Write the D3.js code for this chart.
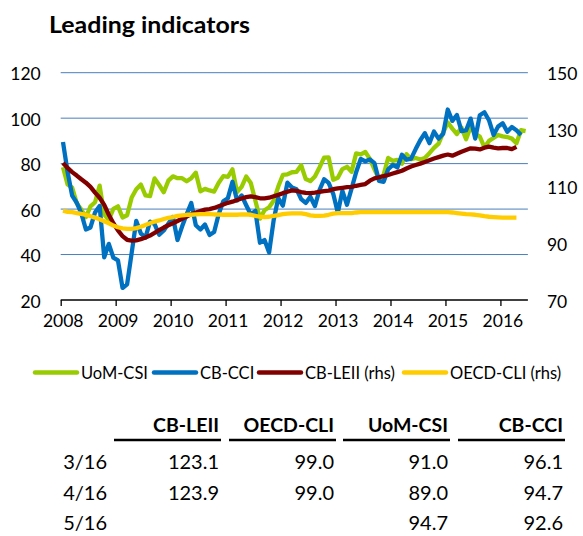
<!DOCTYPE html>
<html>
<head>
<meta charset="utf-8">
<script src="https://cdn.jsdelivr.net/npm/d3@7"></script>
<style>
  body { margin: 0; background: #fff; }
  svg text { font-family: Lato, "Open Sans", sans-serif; fill: #000; }
</style>
</head>
<body>
<div id="chart"></div>
<script>
// monthly values, Jan 2008 onwards
const uomCsi = [
  78.4, 70.8, 69.5, 62.6, 59.8, 56.4, 61.2, 63.0, 70.3, 57.6, 55.3, 60.1,
  61.2, 56.3, 57.3, 65.1, 68.7, 70.8, 66.0, 65.7, 73.5, 70.6, 67.4, 72.5,
  74.4, 73.6, 73.6, 72.2, 73.6, 76.0, 67.8, 68.9, 68.2, 67.7, 71.6, 74.5,
  74.2, 77.5, 67.5, 69.8, 74.3, 71.5, 63.7, 55.8, 59.5, 60.8, 63.7, 69.9,
  75.0, 75.3, 76.2, 76.4, 79.3, 73.2, 72.3, 74.3, 78.3, 82.6, 82.7, 72.9,
  73.8, 77.6, 78.6, 76.4, 84.5, 84.1, 85.1, 82.1, 77.5, 73.2, 75.1, 82.5,
  81.2, 81.6, 80.0, 84.1, 81.9, 82.5, 81.8, 82.5, 84.6, 86.9, 88.8, 93.6,
  98.1, 95.4, 93.0, 95.9, 90.7, 96.1, 93.1, 91.9, 87.2, 90.0, 91.3, 92.6,
  92.0, 91.7, 91.0, 89.0, 94.7, 94.3
];
const cbCci = [
  89.5, 76.4, 65.9, 62.8, 58.1, 51.0, 51.9, 58.5, 61.4, 38.8, 44.7, 38.6,
  37.4, 25.3, 26.9, 40.8, 54.8, 49.3, 47.4, 54.5, 53.4, 48.7, 50.6, 53.6,
  56.5, 46.4, 52.3, 57.7, 62.7, 52.9, 51.0, 53.2, 48.6, 49.9, 57.8, 63.4,
  64.8, 72.0, 63.8, 66.0, 61.7, 57.6, 59.2, 45.2, 46.4, 40.9, 55.2, 64.8,
  61.5, 71.6, 69.5, 68.7, 64.4, 62.7, 65.4, 61.3, 68.4, 73.1, 71.5, 66.7,
  58.4, 68.0, 61.9, 69.0, 76.2, 82.1, 81.0, 81.8, 80.2, 72.4, 72.0, 77.5,
  79.4, 78.3, 83.9, 81.7, 82.2, 86.4, 90.3, 93.4, 89.0, 94.1, 91.0, 93.1,
  103.8, 98.8, 101.4, 94.3, 94.6, 99.8, 91.0, 101.3, 102.6, 99.1, 92.6, 96.3,
  97.8, 94.0, 96.1, 94.7, 92.6
];
const cbLeii = [
  118.2, 116.5, 115.0, 113.8, 112.5, 111.3, 109.8, 107.8, 106.0, 103.5, 100.0, 97.0,
  94.5, 92.5, 91.2, 90.9, 91.0, 91.4, 92.0, 92.7, 93.6, 94.6, 95.5, 96.3,
  97.0, 97.8, 98.6, 99.4, 100.2, 100.8, 101.3, 101.8, 102.0, 102.4, 103.0, 103.6,
  104.2, 104.6, 105.2, 105.7, 106.2, 106.5, 106.2, 105.8, 105.8, 106.0, 106.5, 107.0,
  107.6, 108.1, 108.6, 108.4, 108.0, 107.7, 107.6, 107.8, 108.1, 108.3, 108.5, 109.0,
  109.3, 109.5, 109.7, 109.8, 110.2, 110.5, 110.8, 112.0, 112.8, 113.2, 113.6, 114.0,
  114.5, 115.0, 115.5, 116.3, 117.0, 117.5, 118.0, 118.6, 119.2, 119.8, 120.3, 120.8,
  121.2, 120.8, 121.5, 122.2, 122.8, 123.4, 123.3, 123.0, 123.6, 124.0, 123.6, 123.4,
  123.5, 123.5, 123.1, 123.9
];
const oecdCli = [
  101.4, 101.0, 100.9, 100.6, 100.3, 100.0, 99.5, 99.0, 98.4, 97.7, 97.0, 96.2,
  95.6, 95.2, 95.0, 95.0, 95.3, 95.8, 96.4, 97.0, 97.6, 98.0, 98.5, 98.9,
  99.2, 99.6, 99.8, 100.0, 100.0, 100.1, 100.2, 100.2, 100.2, 100.1, 100.1, 100.0,
  100.0, 100.0, 100.0, 100.1, 100.1, 100.0, 99.6, 99.3, 99.2, 99.3, 99.6, 99.9,
  100.2, 100.4, 100.5, 100.5, 100.5, 100.2, 99.8, 99.6, 99.6, 99.7, 100.0, 100.4,
  100.6, 100.6, 100.6, 100.6, 100.8, 100.9, 100.9, 100.9, 100.9, 100.9, 100.9, 100.9,
  100.9, 100.9, 100.9, 100.9, 100.9, 100.9, 100.9, 100.9, 100.9, 100.9, 100.9, 100.9,
  100.9, 100.8, 100.6, 100.4, 100.2, 100.1, 100.0, 99.8, 99.5, 99.3, 99.2, 99.1,
  99.0, 99.0, 99.0, 99.0
];

const years = ["2008", "2009", "2010", "2011", "2012", "2013", "2014", "2015", "2016"];
const leftTicks = [20, 40, 60, 80, 100, 120];
const rightTicks = [70, 90, 110, 130, 150];

const seriesNames = ["UoM-CSI", "CB-CCI", "CB-LEII (rhs)", "OECD-CLI (rhs)"];
const seriesColors = ["#99cc00", "#0070c0", "#800000", "#ffcc00"];

const tableHeads = ["CB-LEII", "OECD-CLI", "UoM-CSI", "CB-CCI"];
const tableRows = ["3/16", "4/16", "5/16"];
const tableValues = [
  ["123.1", "99.0", "91.0", "96.1"],
  ["123.9", "99.0", "89.0", "94.7"],
  ["", "", "94.7", "92.6"]
];

const W = 583, H = 536;
const plot = {left: 60.7, right: 527.9, top: 72.7, bottom: 300};

const svg = d3.select("#chart").append("svg")
    .attr("width", W)
    .attr("height", H);

svg.append("text")
    .attr("x", 49)
    .attr("y", 33)
    .attr("font-size", 22)
    .attr("font-weight", "bold")
    .attr("textLength", 201)
    .attr("lengthAdjust", "spacingAndGlyphs")
    .text("Leading indicators");

const x = d3.scaleLinear().domain([-0.5, 101.5]).range([plot.left, plot.right]);
const yL = d3.scaleLinear().domain([20, 120]).range([plot.bottom, plot.top]);
const yR = d3.scaleLinear().domain([70, 150]).range([plot.bottom, plot.top]);

// gridlines
svg.append("g")
    .selectAll("line")
    .data(leftTicks.filter(d => d > 20))
    .join("line")
    .attr("x1", plot.left)
    .attr("x2", plot.right)
    .attr("y1", d => yL(d))
    .attr("y2", d => yL(d))
    .attr("stroke", "#4a7ebb")
    .attr("stroke-width", 1);

// left axis
svg.append("g")
    .attr("transform", `translate(${plot.left},0)`)
    .call(d3.axisLeft(yL).tickValues(leftTicks).tickSize(0).tickPadding(20))
    .call(g => g.select(".domain").remove())
    .selectAll("text")
    .attr("font-size", 17.5)
    .attr("dy", "0.4em");

// right axis
svg.append("g")
    .attr("transform", `translate(${plot.right},0)`)
    .call(d3.axisRight(yR).tickValues(rightTicks).tickSize(0).tickPadding(19))
    .call(g => g.select(".domain").remove())
    .selectAll("text")
    .attr("font-size", 17.5)
    .attr("dy", "0.4em");

// x axis
const xTicks = years.map((y, i) => i * 12 - 0.5);
const xAxis = svg.append("g")
    .attr("transform", `translate(0,${plot.bottom})`)
    .call(d3.axisBottom(x).tickValues(xTicks).tickSize(6).tickPadding(9).tickFormat((d, i) => years[i]));
xAxis.select(".domain")
    .attr("d", `M${plot.left},0H${plot.right}`)
    .attr("stroke", "#000")
    .attr("stroke-width", 1.3);
xAxis.selectAll(".tick line").attr("stroke", "#000").attr("stroke-width", 1.3);
xAxis.selectAll("text")
    .attr("font-size", 17.5)
    .attr("dx", "2");

// series lines
const lineL = d3.line().x((d, i) => x(i)).y(d => yL(d));
const lineR = d3.line().x((d, i) => x(i)).y(d => yR(d));
const seriesData = [[uomCsi, lineL], [cbCci, lineL], [cbLeii, lineR], [oecdCli, lineR]];

svg.append("g")
    .selectAll("path")
    .data(seriesData)
    .join("path")
    .attr("d", d => d[1](d[0]))
    .attr("fill", "none")
    .attr("stroke", (d, i) => seriesColors[i])
    .attr("stroke-width", 4.3)
    .attr("stroke-linejoin", "round");

// legend
const legendLine = [35, 154, 259, 404];
const legendY = 372.5;
const legend = svg.append("g");
seriesNames.forEach((name, i) => {
    legend.append("line")
        .attr("x1", legendLine[i]).attr("x2", legendLine[i] + 42)
        .attr("y1", legendY).attr("y2", legendY)
        .attr("stroke", seriesColors[i])
        .attr("stroke-width", 4.5)
        .attr("stroke-linecap", "round");
    legend.append("text")
        .attr("x", legendLine[i] + 46)
        .attr("y", legendY + 6)
        .attr("font-size", 16.5)
        .text(name);
});

// table
const colRight = [221, 336, 450, 565];
const colWidth = 107;
const headY = 432, ruleY = 440;
const rowY = [469, 499.5, 530];

const table = svg.append("g");
table.selectAll(".head")
    .data(tableHeads)
    .join("text")
    .attr("x", (d, i) => colRight[i] - 2)
    .attr("y", headY)
    .attr("text-anchor", "end")
    .attr("font-size", 19.5)
    .attr("font-weight", "bold")
    .text(d => d);

table.selectAll(".rule")
    .data(tableHeads)
    .join("line")
    .attr("x1", (d, i) => colRight[i] - colWidth)
    .attr("x2", (d, i) => colRight[i])
    .attr("y1", ruleY)
    .attr("y2", ruleY)
    .attr("stroke", "#000")
    .attr("stroke-width", 2.5);

tableRows.forEach((r, ri) => {
    table.append("text")
        .attr("x", 107)
        .attr("y", rowY[ri])
        .attr("text-anchor", "end")
        .attr("font-size", 20)
        .text(r);
    tableValues[ri].forEach((v, ci) => {
        table.append("text")
            .attr("x", colRight[ci] - 2)
            .attr("y", rowY[ri])
            .attr("text-anchor", "end")
            .attr("font-size", 20)
            .text(v);
    });
});
</script>
</body>
</html>
